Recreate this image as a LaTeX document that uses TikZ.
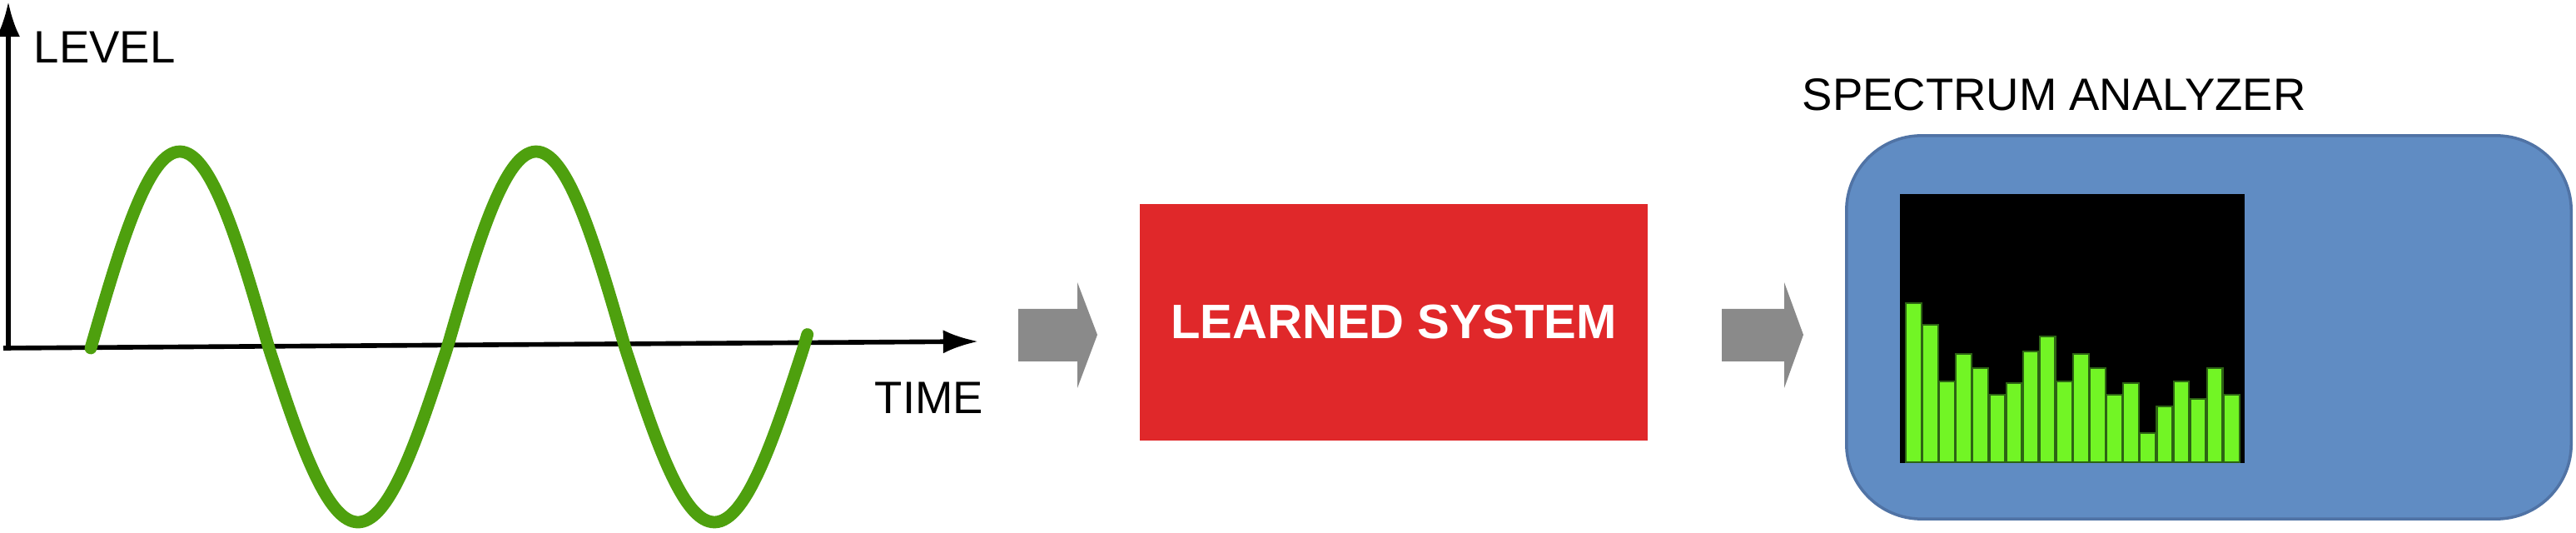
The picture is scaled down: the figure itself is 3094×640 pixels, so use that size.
\documentclass[tikz,border=0pt]{standalone}
\usepackage{fontspec}
\setmainfont{Liberation Sans}
\usetikzlibrary{arrows.meta}
\definecolor{wave}{RGB}{78,160,14}
\definecolor{arr}{RGB}{138,138,138}
\definecolor{redbox}{RGB}{224,40,42}
\definecolor{bluebox}{RGB}{96,140,195}
\definecolor{blueedge}{RGB}{80,115,165}
\definecolor{bar}{RGB}{114,245,37}
\definecolor{baredge}{RGB}{45,100,20}
\begin{document}
\begin{tikzpicture}[x=0.01cm,y=-0.01cm,
  lbl/.style={font=\fontsize{15.5pt}{18pt}\selectfont,inner sep=0},
  blockarrow/.style={fill=arr},
  axisline/.style={line width=1.6pt,-{Latex[length=12pt,width=8pt]}}]
\useasboundingbox (0,0) rectangle (3094,640);
% axes
\coordinate (o) at (10,418);
\coordinate (ytop) at (10,2);
\coordinate (xstart) at (4,418);
\coordinate (xend) at (1175,410);
\draw[axisline] (o) -- (ytop);
\draw[axisline] (xstart) -- (xend);
\node[lbl,anchor=west] (level) at (40,57) {LEVEL};
\node[lbl,anchor=west] (time) at (1050,478) {TIME};
% wave
\draw[wave,line width=4.2pt,line cap=round] plot[domain=0:724,samples=241,smooth]
  ({109+1.18889*\x},{418-(sin(\x)>0?236:209)*sin(\x)});
% arrows
\fill[blockarrow] (1223,371) -- (1294,371) -- (1294,339) -- (1318,402) -- (1294,466) -- (1294,434) -- (1223,434) -- cycle;
\fill[blockarrow] (2068,371) -- (2143,371) -- (2143,339) -- (2166,402) -- (2143,466) -- (2143,434) -- (2068,434) -- cycle;
% red box
\node[fill=redbox,minimum width=6.1cm,minimum height=2.84cm,inner sep=0,
  text=white,font=\bfseries\fontsize{16.5pt}{19pt}\selectfont] (sys) at (1674,387) {LEARNED SYSTEM};
% spectrum analyzer
\node[draw=blueedge,line width=1pt,fill=bluebox,rounded corners=0.9cm,minimum width=8.7cm,minimum height=4.6cm,inner sep=0] (sa) at (2653,393) {};
\node[lbl] (satitle) at (2467,114) {SPECTRUM ANALYZER};
\fill[black] (2282,233) rectangle (2696,556);
\foreach \t [count=\i from 0] in {73,150,354,254,306,402,361,246,193,354,254,306,402,361,541,445,354,418,306,402}{
  \filldraw[fill=bar,draw=baredge,line width=0.6pt] ({2289+\i*20.1},{340+\t/3}) rectangle ({2289+\i*20.1+18.7},555);
}
\end{tikzpicture}
\end{document}
